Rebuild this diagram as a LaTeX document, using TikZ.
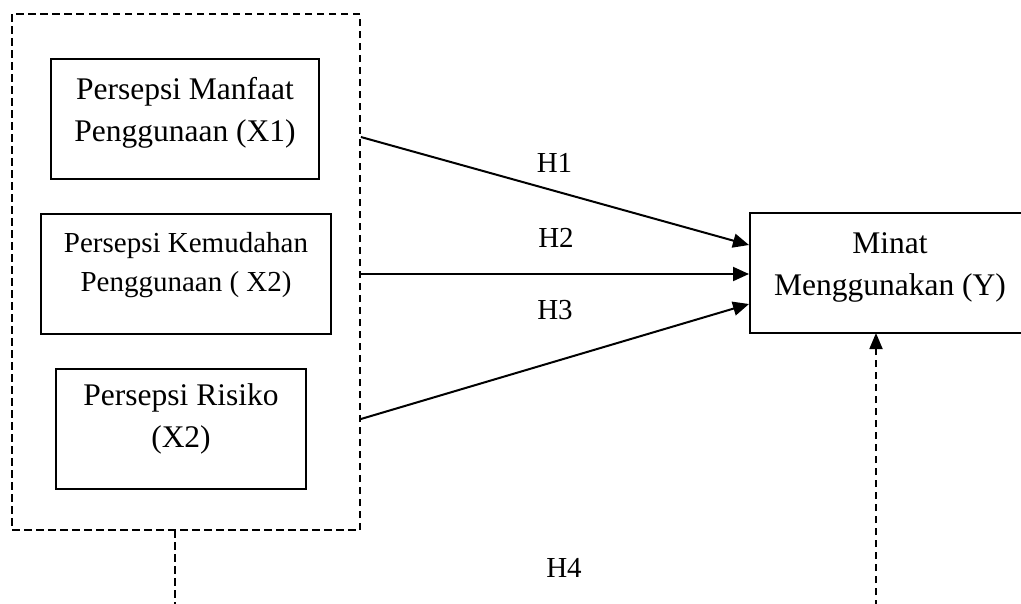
\documentclass[tikz,border=0pt]{standalone}
\usepackage{fontspec}
\setmainfont{Liberation Serif}
\usetikzlibrary{arrows.meta,calc}
\tikzset{
  box/.style={draw, line width=2pt, inner sep=0pt},
  grpbox/.style={draw, line width=1.8pt, dash pattern=on 7.5pt off 4.5pt, inner sep=0pt},
  lbl/.style={inner sep=0pt, align=center, font=\fontsize{31.5}{42}\selectfont},
  lblsm/.style={inner sep=0pt, align=center, font=\fontsize{29}{39}\selectfont},
  hyp/.style={inner sep=0pt, anchor=base, font=\fontsize{29}{35}\selectfont},
  arr/.style={line width=2pt, -{Triangle[length=16pt,width=14pt]}},
  darr/.style={line width=1.8pt, dash pattern=on 7.5pt off 4.5pt, -{Triangle[length=16pt,width=13pt]}}
}
\begin{document}
\begin{tikzpicture}[x=1pt,y=-1pt]
\useasboundingbox (0,0) rectangle (1021,603);
\clip (0,0) rectangle (1021,603);
% group box
\node[grpbox, minimum width=348pt, minimum height=516pt] (grp) at (186,272) {};
% independent variable boxes
\node[box, minimum width=268pt, minimum height=120pt] (x1) at (185,119) {};
\node[lbl] (x1t) at (185,113) {Persepsi Manfaat\\Penggunaan (X1)};
\node[box, minimum width=290pt, minimum height=120pt] (x2) at (186,274) {};
\node[lblsm] (x2t) at (186,265) {Persepsi Kemudahan\\Penggunaan ( X2)};
\node[box, minimum width=250pt, minimum height=120pt] (x3) at (181,429) {};
\node[lbl] (x3t) at (181,419) {Persepsi Risiko\\(X2)};
% dependent variable box
\node[box, minimum width=280pt, minimum height=120pt] (y) at (890,273) {};
\node[lbl] (yt) at (890,267.5) {Minat\\Menggunakan (Y)};
% connector end points
\coordinate (s1) at (grp.east |- 0,137);
\coordinate (s2) at (grp.east |- 0,274);
\coordinate (s3) at (grp.east |- 0,419);
\coordinate (e1) at (y.west |- 0,245);
\coordinate (e2) at (y.west |- 0,274);
\coordinate (e3) at (y.west |- 0,304);
\coordinate (gb) at (175,530);
\coordinate (yb) at (876,333);
% arrows
\draw[arr] (s1) -- (e1);
\draw[arr] (s2) -- (e2);
\draw[arr] (s3) -- (e3);
\draw[darr] (gb) -- (175,620) -| (yb);
% labels
\node[hyp] (h1) at (554.5,172) {H1};
\node[hyp] (h2) at (556,247) {H2};
\node[hyp] (h3) at (555,319) {H3};
\node[hyp] (h4) at (564,577) {H4};
\end{tikzpicture}
\end{document}
